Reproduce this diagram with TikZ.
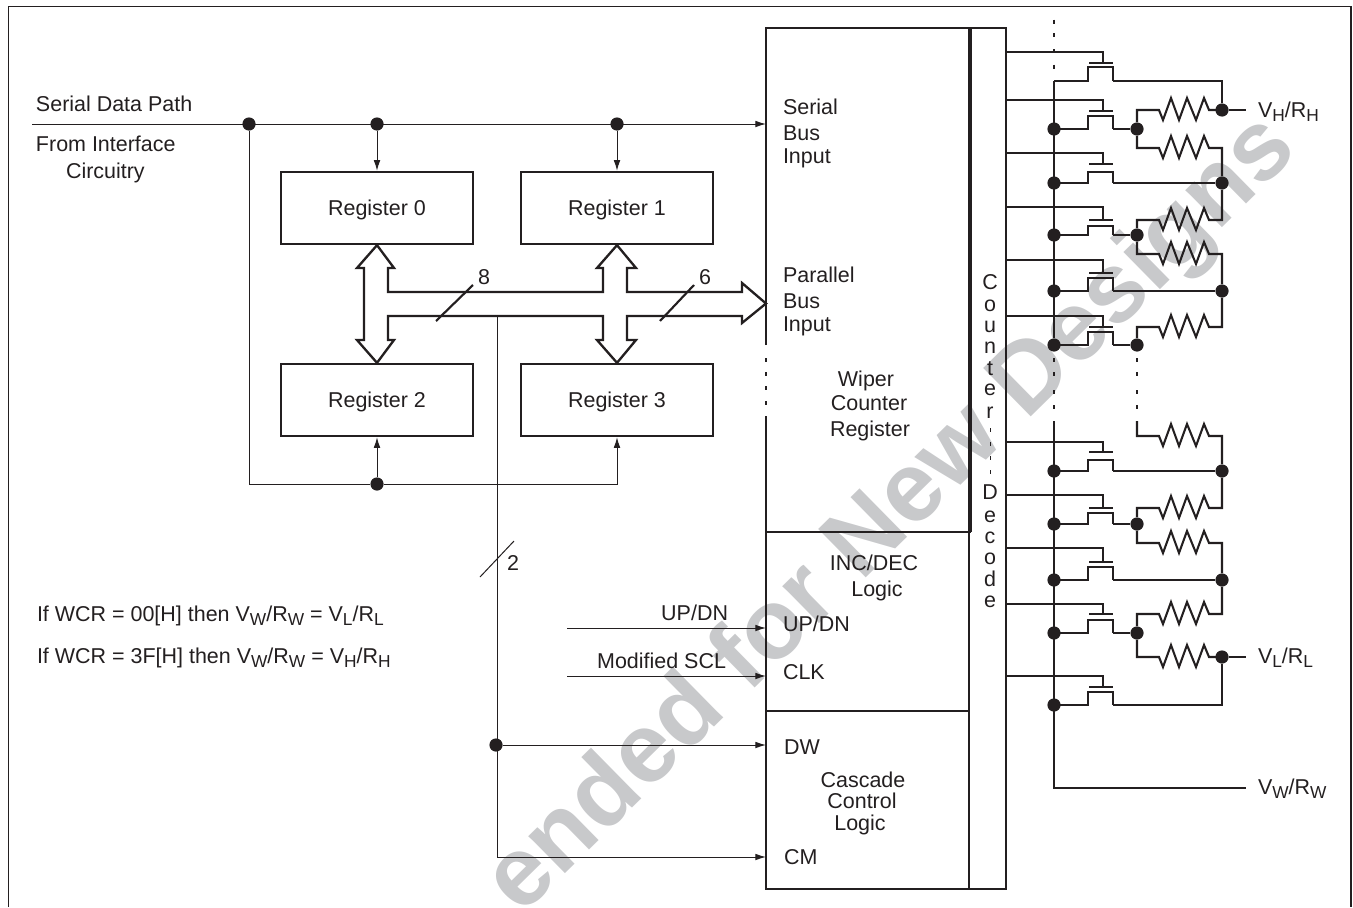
\documentclass[tikz,border=0pt]{standalone}
\usepackage{fontspec}
\setmainfont{Liberation Sans}
\usetikzlibrary{arrows.meta,calc}
\definecolor{ink}{HTML}{231F20}
\definecolor{wm}{HTML}{C8C9CB}
\newcommand{\lowsub}[1]{\raisebox{-3.6pt}{\fontsize{13}{13}\selectfont #1}}
\tikzset{
  x=0.75pt,y=-0.75pt,
  lab/.style={font=\fontsize{16.1}{19}\selectfont,text=ink,inner sep=0pt,outer sep=0pt},
  labl/.style={lab,anchor=base west},
  labc/.style={lab,anchor=base},
  labr/.style={lab,anchor=base east},
  thin wire/.style={draw=ink,line width=0.75pt},
  sig/.style={thin wire,-{Latex[length=8pt,width=5pt]}},
  wire/.style={draw=ink,line width=1.55pt,line join=miter},
  boxline/.style={draw=ink,line width=1.75pt},
  regbox/.style={rectangle,draw=ink,line width=1.75pt,minimum width=144pt,minimum height=54pt,inner sep=0pt},
  dot/.style={circle,fill=ink,minimum size=9.9pt,inner sep=0pt},
  tick/.style={draw=ink,line width=1.6pt},
  resz/.style={insert path={-- ++(4,10) -- ++(8,-22) -- ++(8,22) -- ++(8,-22) -- ++(9,22) -- ++(8,-22) -- ++(5,12)}},
}
\begin{document}
\begin{tikzpicture}
\useasboundingbox (0,0) rectangle (1353,907);
% watermark
\begin{scope}
\clip (0,0) rectangle (1353,907);
\node[rotate=44.5,anchor=base east,inner sep=0pt,text=wm,font=\fontsize{74}{74}\selectfont\bfseries] (wmk) at (1300,152) {ended for New Designs};
\end{scope}
% frame
\coordinate (fa) at (8.5,907);
\coordinate (fb) at (8.5,6.5);
\coordinate (fc) at (1351,6.5);
\coordinate (fd) at (1351,907);
\draw[draw=ink,line width=1pt] (fa) -- (fb) -- (fc) -- (fd);
% registers
\node[regbox] (reg0) at (377,208) {};
\node[regbox] (reg1) at (617,208) {};
\node[regbox] (reg2) at (377,400) {};
\node[regbox] (reg3) at (617,400) {};
\node[labc] (t0) at (377,215) {Register 0};
\node[labc] (t1) at (617,215) {Register 1};
\node[labc] (t2) at (377,407) {Register 2};
\node[labc] (t3) at (617,407) {Register 3};
% main blocks
\coordinate (tl) at (766,28);
\coordinate (tm) at (970,28);
\coordinate (tr) at (1006,28);
\coordinate (bl) at (766,889);
\coordinate (bm) at (969,889);
\coordinate (br) at (1006,889);
\coordinate (wl) at (766,345);
\coordinate (wl2) at (766,416);
\coordinate (m1l) at (766,532);
\coordinate (m1r) at (971,532);
\coordinate (m2l) at (766,711);
\coordinate (m2r) at (969,711);
\draw[boxline] (wl) -- (tl) -- (tr) -- (br) -- (bl) -- (wl2);
\draw[draw=ink,line width=3.2pt] (tm) -- (tm |- m1r);
\draw[boxline] (bm) -- (bm |- m1r);
\draw[boxline,line width=2.1pt] (m1l) -- (m1r);
\draw[boxline] (m2l) -- (m2r);
\foreach \y in {360,374,388,403}
  \draw[draw=ink,line width=1.7pt] (766,\y-2) -- (766,\y+2);
% serial line
\coordinate (sstart) at (32,124);
\node[dot] (d1) at (249,124) {};
\node[dot] (d2) at (377,124) {};
\node[dot] (d3) at (617,124) {};
\node[dot] (d4) at (377,484) {};
\draw[sig] (sstart) -- (sstart -| tl);
\draw[sig] (d2) -- (reg0.north);
\draw[sig] (d3) -- (reg1.north);
\draw[thin wire] (d1) |- (d4);
\draw[sig] (d4) -| (reg3.south);
\draw[sig] (d4) -- (reg2.south);
% parallel bus
\coordinate (bustip) at (766,303.5);
\draw[draw=ink,line width=1.75pt,miter limit=10] (reg0.south) -- (394,268) -- (388,268) -- (388,292) -- (603,292) -- (603,268) -- (597,268) -- (reg1.south) -- (636,268) -- (627,268) -- (627,292) -- (742,292) -- (742,283) -- (bustip) -- (742,323) -- (742,316) -- (627,316) -- (627,340) -- (636,340) -- (reg3.north) -- (597,340) -- (603,340) -- (603,316) -- (388,316) -- (388,340) -- (394,340) -- (reg2.north) -- (357,340) -- (364,340) -- (364,268) -- (357,268) -- cycle;
\coordinate (sl8a) at (436,321);
\coordinate (sl8b) at (473,285);
\coordinate (sl6a) at (660,321);
\coordinate (sl6b) at (694,285);
\draw[tick] (sl8a) -- (sl8b);
\draw[tick] (sl6a) -- (sl6b);
\node[labc] (n8) at (484,284) {8};
\node[labc] (n6) at (705,284) {6};
% control bus
\coordinate (cb) at (497,316);
\coordinate (cc) at (497,857);
\node[dot] (d5) at (496,745) {};
\draw[thin wire] (cb) -- (cc);
\draw[sig] (d5) -- (d5 -| tl);
\draw[sig] (cc) -- (cc -| tl);
\coordinate (sl2a) at (480,577);
\coordinate (sl2b) at (514,541);
\draw[thin wire] (sl2a) -- (sl2b);
\node[labc] (n2) at (513,570) {2};
% up/dn clk
\coordinate (ud) at (567,628);
\coordinate (ck) at (567,676);
\draw[sig] (ud) -- (ud -| tl);
\draw[sig] (ck) -- (ck -| tl);
\node[labr] (tud) at (728,620) {UP/DN};
\node[labr] (tck) at (726,668) {Modified SCL};
% left text
\node[labl] (ts1) at (36,111) {Serial Data Path};
\node[labl] (ts2) at (36,151) {From Interface};
\node[labl] (ts3) at (66,178) {Circuitry};
\node[labl] (tw1) at (37,621) {If WCR = 00[H] then V\lowsub{W}/R\lowsub{W} = V\lowsub{L}/R\lowsub{L}};
\node[labl] (tw2) at (37,663) {If WCR = 3F[H] then V\lowsub{W}/R\lowsub{W} = V\lowsub{H}/R\lowsub{H}};
% block text
\node[labl] (b1) at (783,114) {Serial};
\node[labl] (b2) at (783,140) {Bus};
\node[labl] (b3) at (783,163) {Input};
\node[labl] (b4) at (783,282) {Parallel};
\node[labl] (b5) at (783,308) {Bus};
\node[labl] (b6) at (783,331) {Input};
\node[labc] (b7) at (866,386) {Wiper};
\node[labc] (b8) at (869,410) {Counter};
\node[labc] (b9) at (870,436) {Register};
\node[labc] (b10) at (874,570) {INC/DEC};
\node[labc] (b11) at (877,596) {Logic};
\node[labl] (b12) at (783,631) {UP/DN};
\node[labl] (b13) at (783,679) {CLK};
\node[labl] (b14) at (784,754) {DW};
\node[labc] (b15) at (863,787) {Cascade};
\node[labc] (b16) at (862,808) {Control};
\node[labc] (b17) at (860,830) {Logic};
\node[labl] (b18) at (784,864) {CM};
% vertical word
\foreach \c/\y [count=\n] in {C/289,o/311,u/332,n/353,t/375,e/395,r/418,D/499,e/522,c/543,o/564,d/586,e/607}
  \node[labc] (v\n) at (990,\y) {\c};
\foreach \y in {430,444,458,472}
  \draw[draw=ink,line width=0.7pt] (990,\y-2) -- (990,\y+2);
% circuit
\foreach \i/\g/\p/\c/\l in {0/52/63/67/81,1/100/111/116/129,2/153/164/172/183,3/207/220/226/235,4/260/273/278/291,5/316/327/332/345,6/442/452/460/471,7/495/508/513/524,8/548/562/567/580,9/604/614/620/633,10/676/687/692/705}{
  \coordinate (gs\i) at (1006,\g);
  \coordinate (gt\i) at (1103,\g);
  \coordinate (gb\i) at (1103,\p);
  \coordinate (pl\i) at (1089,\p);
  \coordinate (pr\i) at (1113,\p);
  \coordinate (sl\i) at (1088,\c);
  \coordinate (sr\i) at (1113,\c);
  \coordinate (dl\i) at (1088,\l);
  \coordinate (dr\i) at (1113,\l);
  \coordinate (sp\i) at (1054,\l);
  \draw[wire] (gs\i) -- (gt\i) -- (gb\i);
  \draw[wire,line width=1.6pt] (pl\i) -- (pr\i);
  \draw[wire] (sp\i) -- (dl\i) -- (sl\i) -- (sr\i) -- (dr\i);
}
\foreach \i in {1,...,10} \node[dot] (s\i) at (sp\i) {};
% wiper bus
\coordinate (vw) at (1246,788);
\coordinate (vh) at (1246,110);
\coordinate (vl) at (1246,657);
\coordinate (dotend) at (1137,421);
\coordinate (busup) at (1054,421);
\draw[wire] (sp0) -- (s5);
\draw[wire] (busup) |- (vw);
\foreach \x in {1054,1137}\foreach \y in {360,374,392,407}
  \draw[wire,line width=1.6pt] (\x,\y-2) -- (\x,\y+2);
\foreach \y in {21.5,35,51,66.5}
  \draw[wire,line width=1.6pt] (1054,\y-2) -- (1054,\y+2);
% drain junctions and rail
\node[dot] (m1) at (1137,129) {};
\node[dot] (m3) at (1137,235) {};
\node[dot] (m5) at (1137,345) {};
\node[dot] (m7) at (1137,524) {};
\node[dot] (m9) at (1137,633) {};
\node[dot] (r0) at (1222,110) {};
\node[dot] (r2) at (1222,183) {};
\node[dot] (r4) at (1222,291) {};
\node[dot] (r6) at (1222,471) {};
\node[dot] (r8) at (1222,580) {};
\node[dot] (r9) at (1222,657) {};
\draw[wire] (dr0) -| (r0);
\draw[wire] (dr1) -- (m1);
\draw[wire] (dr2) -- (r2);
\draw[wire] (dr3) -- (m3);
\draw[wire] (dr4) -- (r4);
\draw[wire] (dr5) -- (m5);
\draw[wire] (dr6) -- (r6);
\draw[wire] (dr7) -- (m7);
\draw[wire] (dr8) -- (r8);
\draw[wire] (dr9) -- (m9);
\draw[wire] (dr10) -| (r9);
\draw[wire] (r0) -- (vh);
\draw[wire] (r9) -- (vl);
% resistors
\foreach \f/\y/\t in {m1/110/r0,m1/148/r2,m3/220/r2,m3/254/r4,m5/327/r4,dotend/436/r6,m7/508/r6,m7/543/r8,m9/614/r8,m9/657/r9}
  \draw[wire] (\f) |- (1159,\y) [resz] -| (\t);
% terminal labels
\node[labl] (vhl) at (1258,117) {V\lowsub{H}/R\lowsub{H}};
\node[labl] (vll) at (1258,663) {V\lowsub{L}/R\lowsub{L}};
\node[labl] (vwl) at (1258,794) {V\lowsub{W}/R\lowsub{W}};
\end{tikzpicture}
\end{document}
